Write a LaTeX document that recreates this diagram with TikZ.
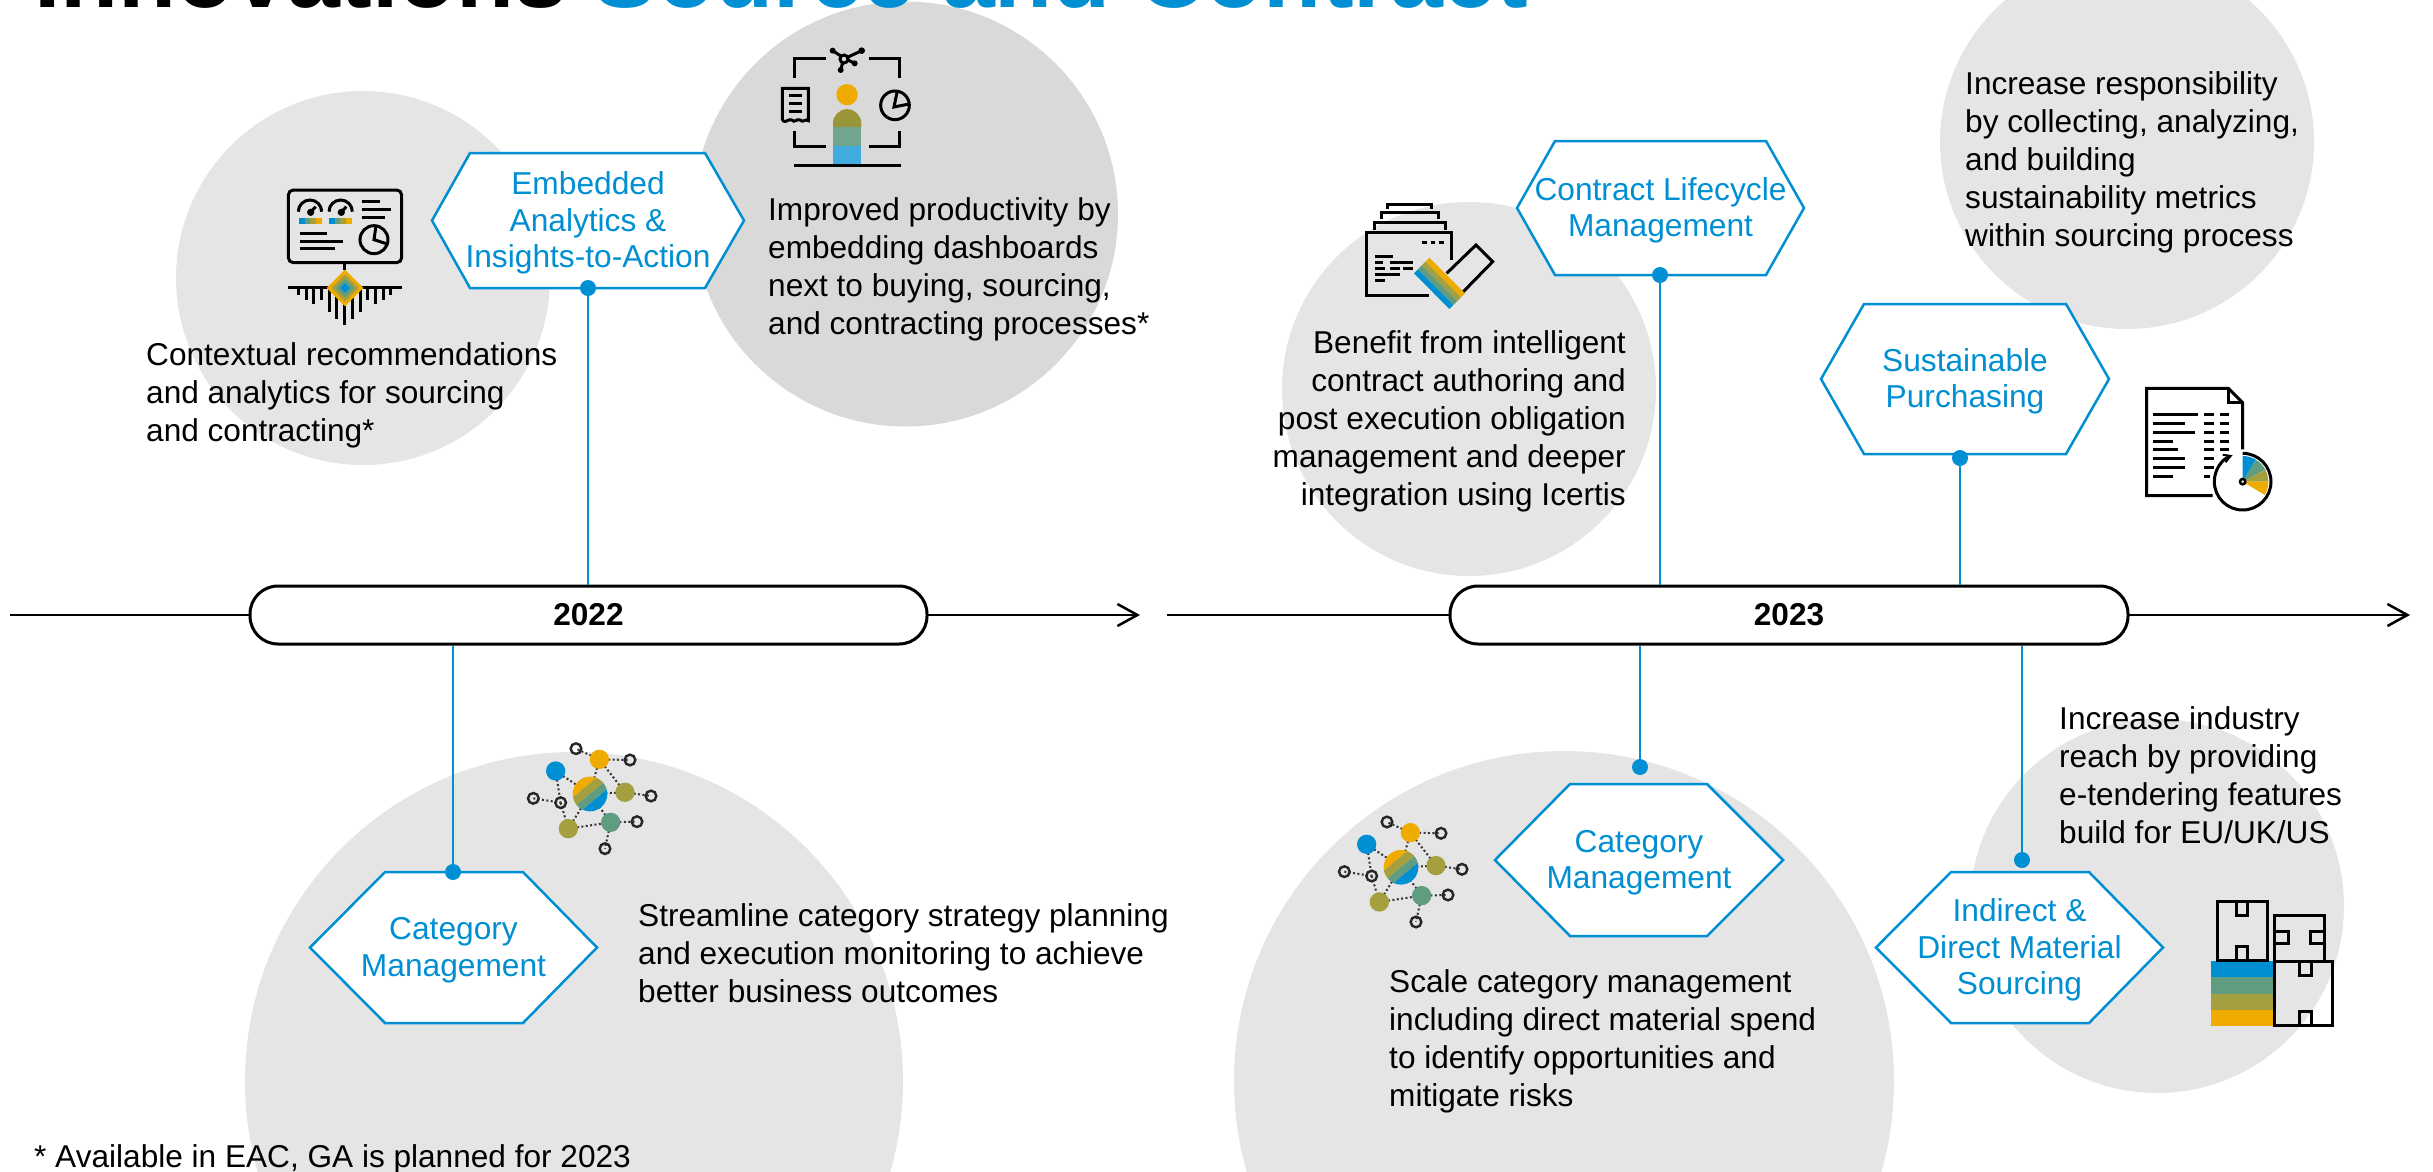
\documentclass[tikz,border=0pt]{standalone}
\usepackage{fontspec}
\setmainfont{Liberation Sans}
\usetikzlibrary{arrows.meta}
\definecolor{sapblue}{HTML}{008FD3}
\definecolor{sapgreen}{HTML}{5F9C80}
\definecolor{sapolive}{HTML}{A5A03F}
\definecolor{sapyellow}{HTML}{F0AB00}
\definecolor{lightdisc}{HTML}{E5E5E5}
\definecolor{darkdisc}{HTML}{D9D9D9}
\tikzset{
  disc/.style={circle,fill=lightdisc,draw=none,inner sep=0pt,minimum size=#1},
  hexline/.style={draw=sapblue,line width=2.5pt,fill=white,line join=miter},
  hexlabel/.style={align=center,text=sapblue,font=\fontsize{31.7}{36.5}\selectfont,inner sep=0pt},
  bodytext/.style={align=left,anchor=north west,inner sep=0pt,font=\fontsize{31.6}{38.2}\selectfont},
  bodyright/.style={align=right,anchor=north east,inner sep=0pt,font=\fontsize{31.6}{38.2}\selectfont},
  pill/.style={draw=black,line width=3pt,fill=white,rounded corners=28pt,minimum height=58pt,inner sep=0pt,font=\fontsize{31.6}{36}\selectfont\bfseries},
  dotnode/.style={circle,fill=sapblue,inner sep=0pt,minimum size=16pt},
  conn/.style={draw=sapblue,line width=2.5pt},
  axis/.style={draw=black,line width=2.5pt,-{Straight Barb[length=20pt,width=22pt,line width=2.5pt]}},
  ink/.style={draw=black,line width=3pt,line cap=butt},
  iconscope/.style={x=.3333pt,y=-.3333pt},
  netlink/.style={draw=black!80,line width=2pt,dash pattern=on 2pt off 2.4pt},
  netring/.style={draw=black!85,line width=2.4pt,fill=none},
}
% hexagon: name, left, topleft x, topright x, right, top, bottom, text
\newcommand{\hexagonbox}[8]{%
  \draw[hexline] (#2,{(#6+#7)/2}) -- (#3,#6) -- (#4,#6) -- (#5,{(#6+#7)/2}) -- (#4,#7) -- (#3,#7) -- cycle;
  \node[hexlabel] (#1) at ({(#2+#5)/2},{(#6+#7)/2+2.5}) {#8};
}
\newcommand{\networkicon}[2]{%
\begin{scope}[shift={(#1,#2)},iconscope]
  \foreach \a/\b/\c/\d in {167/153/270/222,298/118/270/222,298/118/375/217,375/217/270/222,332/307/270/222,205/326/270/222,205/326/332/307,167/153/182/248,182/248/205/326,100/235/182/248,298/118/228/86,298/118/390/120,375/217/453/228,332/307/411/305,332/307/315/386}
    \draw[netlink] (\a,\b) -- (\c,\d);
  \begin{scope}
    \clip (270,222) circle (52);
    \foreach \c/\p/\q in {sapyellow/-80/-25,sapolive/-25/0,sapgreen/0/22,sapblue/22/80}
      \fill[\c] ({270-61.6+.64*\p},{222+51.2+.77*\p}) -- ({270+61.6+.64*\p},{222-51.2+.77*\p}) -- ({270+61.6+.64*\q},{222-51.2+.77*\q}) -- ({270-61.6+.64*\q},{222+51.2+.77*\q}) -- cycle;
  \end{scope}
  \fill[sapblue] (167,153) circle (29);
  \fill[sapyellow] (298,118) circle (29);
  \fill[sapolive] (375,217) circle (29);
  \fill[sapgreen] (332,307) circle (29);
  \fill[sapolive] (205,326) circle (29);
  \foreach \a/\b in {228/86,390/120,453/228,411/305,315/386,182/248,100/235}
    \draw[netring] (\a,\b) circle (16);
\end{scope}}
\begin{document}
\begin{tikzpicture}[x=1pt,y=-1pt]
\useasboundingbox (0,0) rectangle (2433,1171);
\clip (0,0) rectangle (2433,1171);
% discs
\node[disc=374pt] (d1) at (363,278) {};
\node[disc=425pt,fill=darkdisc] (d2) at (905.5,214) {};
\node[disc=658pt] (d3) at (574,1081) {};
\node[disc=374pt] (d4) at (1469,389) {};
\node[disc=374pt] (d5) at (2127,142) {};
\node[disc=660pt] (d6) at (1564,1081) {};
\node[disc=374pt] (d7) at (2157,906) {};
% title
\node[anchor=base west,inner sep=0pt,font=\fontsize{95}{100}\selectfont\bfseries] (title) at (34,7) {Innovations \textcolor{sapblue}{Source and Contract}};
% timelines
\coordinate (a1s) at (10,615);
\coordinate (a1e) at (1140,615);
\coordinate (a2s) at (1167,615);
\coordinate (a2e) at (2410,615);
\draw[axis] (a1s) -- (a1e);
\draw[axis] (a2s) -- (a2e);
\node[pill,minimum width=677pt] (p1) at (588.5,615) {2022};
\node[pill,minimum width=678pt] (p2) at (1789,615) {2023};
% hexagons
\hexagonbox{h1}{432}{470}{705}{744}{153}{288}{Embedded\\Analytics \&\\Insights-to-Action}
\hexagonbox{h2}{1517}{1555}{1766}{1804}{141}{275}{Contract Lifecycle\\Management}
\hexagonbox{h3}{1821}{1864}{2066}{2109}{304}{454}{Sustainable\\Purchasing}
\hexagonbox{h4}{310}{385}{523}{597}{872}{1023}{Category\\Management}
\hexagonbox{h5}{1495}{1570}{1707}{1783}{784}{936}{Category\\Management}
\hexagonbox{h6}{1876}{1951}{2089}{2163}{872}{1023}{Indirect \&\\Direct Material\\Sourcing}
% dots and connectors
\node[dotnode] (n1) at (588,288) {};
\node[dotnode] (n2) at (1660,275) {};
\node[dotnode] (n3) at (1960,458) {};
\node[dotnode] (n4) at (453,872) {};
\node[dotnode] (n5) at (1640,767) {};
\node[dotnode] (n6) at (2022,860) {};
\draw[conn] (n1) -- (n1 |- p1.north);
\draw[conn] (n2) -- (n2 |- p2.north);
\draw[conn] (n3) -- (n3 |- p2.north);
\draw[conn] (n4) -- (n4 |- p1.south);
\draw[conn] (n5) -- (n5 |- p2.south);
\draw[conn] (n6) -- (n6 |- p2.south);
% body text
\node[bodytext] (t1) at (146,342) {Contextual recommendations\\and analytics for sourcing\\and contracting*};
\node[bodytext] (t2) at (768,197) {Improved productivity by\\embedding dashboards\\next to buying, sourcing,\\and contracting processes*};
\node[bodytext] (t3) at (638,903) {Streamline category strategy planning\\and execution monitoring to achieve\\better business outcomes};
\node[bodyright] (t4) at (1626,330) {Benefit from intelligent\\contract authoring and\\post execution obligation\\management and deeper\\integration using Icertis};
\node[bodytext] (t5) at (1965,71) {Increase responsibility\\by collecting, analyzing,\\and building\\sustainability metrics\\within sourcing process};
\node[bodytext] (t6) at (2059,706) {Increase industry\\reach by providing\\e-tendering features\\build for EU/UK/US};
\node[bodytext] (t7) at (1389,969) {Scale category management\\including direct material spend\\to identify opportunities and\\mitigate risks};
\node[bodytext] (t8) at (34,1144) {* Available in EAC, GA is planned for 2023};
% dashboard icon
\begin{scope}[shift={(270,170)},iconscope]
  \draw[ink,rounded corners=5pt] (55,60) rectangle (395,278);
  \foreach \g in {120,212}{
    \draw[ink] (\g-35,125) arc (180:360:35);
    \draw[ink] (\g+2,127) circle (6);
    \draw[ink] (\g+6,122) -- (\g+17,110);
  }
  \foreach \o in {87,177}{
    \fill[sapblue] (\o,145) rectangle +(18,17);
    \fill[sapgreen] (\o+18,145) rectangle +(16,17);
    \fill[sapolive] (\o+34,145) rectangle +(16,17);
    \fill[sapyellow] (\o+50,145) rectangle +(18,17);
  }
  \draw[ink] (277,95) -- (330,95) (277,118) -- (362,118) (277,141) -- (345,141);
  \draw[ink] (90,190) -- (172,190) (90,213) -- (218,213) (90,236) -- (196,236);
  \draw[ink] (312,209) circle (42);
  \draw[ink] (318,168) -- (312,209) -- (352,222);
  \draw[ink] (225,278) -- (225,300);
  \draw[ink] (55,354) -- (397,354);
  \foreach \x/\y in {85/375,108/390,131/403,154/390,178/425,201/447,225/465,248/447,271/425,294/390,317/403,340/390,363/375}
    \draw[ink] (\x,354) -- (\x,\y);
  \fill[sapyellow] (225,299) -- (280,354) -- (225,409) -- (170,354) -- cycle;
  \fill[sapolive] (225,313) -- (266,354) -- (225,395) -- (184,354) -- cycle;
  \fill[sapgreen] (225,326) -- (253,354) -- (225,382) -- (197,354) -- cycle;
  \fill[sapblue] (225,339) -- (240,354) -- (225,369) -- (210,354) -- cycle;
\end{scope}
% person icon
\begin{scope}[shift={(760,30)},iconscope]
  \draw[ink] (103,143) -- (103,84) -- (197,84);
  \draw[ink] (327,84) -- (420,84) -- (420,143);
  \draw[ink] (103,303) -- (103,350) -- (197,350);
  \draw[ink] (327,350) -- (420,350) -- (420,303);
  \fill[sapyellow] (261,194) circle (32);
  \fill[sapolive!90!black!95!yellow] (219,291) -- (219,280) arc (180:360:42.5) -- (304,291) -- cycle;
  \fill[sapgreen!90!white] (219,291) rectangle (304,347);
  \fill[sapblue!75!white] (219,347) rectangle (304,406);
  \draw[ink] (103,408) -- (422,408);
  \draw[ink] (67,272) -- (67,175) -- (145,175) -- (145,272) .. controls (135,265) and (130,280) .. (120,270) .. controls (110,265) and (105,280) .. (95,270) .. controls (85,265) and (80,280) .. (67,272);
  \draw[ink] (88,198) -- (125,198) (88,221) -- (125,221) (88,245) -- (125,245);
  \draw[ink] (405,226) circle (43);
  \draw[ink] (412,183) -- (402,231) -- (447,222);
  \draw[ink] (252,87) circle (12);
  \draw[ink] (218,62) -- (244,79) (305,62) -- (262,82) (284,100) -- (264,90) (242,120) -- (248,98);
  \fill[black] (218,62) circle (9) (305,62) circle (10) (284,100) circle (9) (242,120) circle (9);
\end{scope}
% network icons
\networkicon{500}{720}
\networkicon{1311}{793.3}
% contract icon
\begin{scope}[shift={(1350,190)},iconscope]
  \draw[ink] (113,58) -- (113,42) -- (243,42) -- (243,58);
  \draw[ink] (93,88) -- (93,67) -- (265,67) -- (265,88);
  \draw[ink] (73,120) -- (73,96) -- (285,96) -- (285,120);
  \draw[ink] (305,210) -- (305,128) -- (48,128) -- (48,318) -- (238,318);
  \draw[ink] (217,157) -- (230,157) (243,157) -- (256,157) (268,157) -- (281,157);
  \draw[ink] (75,198) -- (130,198) (75,216) -- (100,216) (120,216) -- (188,216) (75,234) -- (105,234) (120,234) -- (150,234) (160,234) -- (190,234) (75,254) -- (150,254) (75,272) -- (105,272);
  \draw[ink] (290,250) -- (378,165) -- (428,215) -- (340,305);
  \fill[sapyellow] (238,203) -- (345,310) -- (333.5,321.75) -- (226.5,214.75) -- cycle;
  \fill[sapolive] (226.5,214.75) -- (333.5,321.75) -- (322,333.5) -- (215,226.5) -- cycle;
  \fill[sapgreen] (215,226.5) -- (322,333.5) -- (310,345.25) -- (203.5,238.25) -- cycle;
  \fill[sapblue] (203.5,238.25) -- (310,345.25) -- (298,357) -- (192,250) -- cycle;
\end{scope}
% document icon
\begin{scope}[shift={(2130,370)},iconscope]
  \draw[ink] (248,377) -- (50,377) -- (50,55) -- (295,55) -- (338,98) -- (338,238);
  \draw[ink] (295,55) -- (295,98) -- (338,98);
  \foreach \y/\x in {132/203,159/165,186/195,213/130,239/145,266/165,292/165,319/130}
    \draw[ink] (70,\y) -- (\x,\y);
  \foreach \y in {132,159,186,213,239}
    \draw[ink] (222,\y) -- (252,\y) (270,\y) -- (298,\y);
  \draw[ink] (222,266) -- (252,266) (222,292) -- (252,292) (222,319) -- (240,319);
  \fill[sapblue] (338,335) -- (338,258) arc (-90:-59:77) -- cycle;
  \fill[sapgreen] (338,335) -- ({338+77*cos(59)},{335-77*sin(59)}) arc (-59:-28:77) -- cycle;
  \fill[sapolive] (338,335) -- ({338+77*cos(28)},{335-77*sin(28)}) arc (-28:0:77) -- cycle;
  \fill[sapyellow] (338,335) -- (415,335) arc (0:31:77) -- cycle;
  \draw[draw=black,line width=2.5pt,fill=white] (338,335) circle (8);
  \draw[ink,-{Straight Barb[length=7pt,width=8pt,line width=2pt]}] (338,250) arc (-90:249:85);
\end{scope}
% boxes icon
\begin{scope}[shift={(2150,880)},iconscope]
  \fill[sapblue] (182,243) rectangle (373,292);
  \fill[sapgreen] (182,292) rectangle (373,341);
  \fill[sapolive] (182,341) rectangle (373,390);
  \fill[sapyellow] (182,390) rectangle (373,438);
  \draw[ink] (201,241) rectangle (352,65);
  \draw[ink] (259,65) rectangle (291,107) (259,198) rectangle (291,241);
  \draw[ink] (373,244) rectangle (524,105);
  \draw[ink] (373,155) rectangle (415,190) (482,155) rectangle (524,190);
  \draw[ink] (373,244) rectangle (548,436);
  \draw[ink] (447,244) rectangle (483,287) (447,393) rectangle (483,436);
\end{scope}
\end{tikzpicture}
\end{document}
